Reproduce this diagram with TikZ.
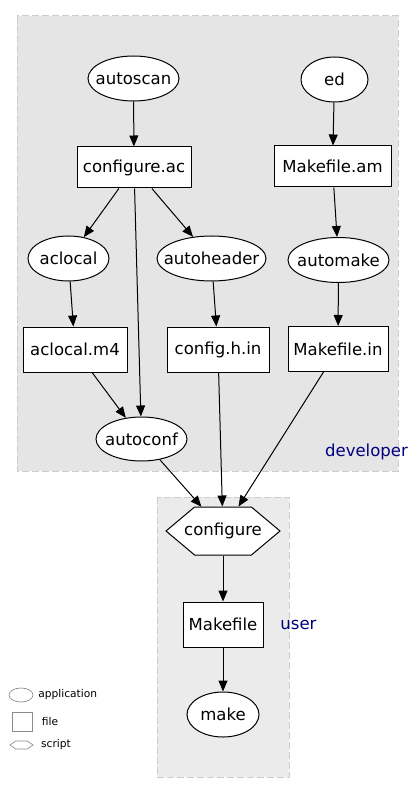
\documentclass[tikz,border=0pt]{standalone}
\usepackage{fontspec}
\setmainfont{DejaVu Sans}
\usepackage{xcolor}
\usepackage{tikz}
\usetikzlibrary{arrows.meta,shapes.geometric,shapes.symbols}
\definecolor{navy}{HTML}{000080}
\definecolor{devgray}{HTML}{E5E5E5}
\definecolor{usergray}{HTML}{EBEBEB}

\begin{document}
\begin{tikzpicture}[x=0.75pt, y=-0.75pt,
  tight/.style={inner sep=0pt, execute at begin node={\hbox to 0pt\bgroup\hss}, execute at end node={\hss\egroup}},
  app/.style={tight, ellipse, draw, fill=white, line width=0.75pt, minimum height=33.75pt, font=\fontsize{12.4}{14}\selectfont},
  filebox/.style={tight, rectangle, draw, fill=white, line width=0.75pt, minimum height=33.75pt, font=\fontsize{12.4}{14}\selectfont},
  scriptbox/.style={tight, signal, signal to=east and west, signal pointer angle=80, draw, fill=white, line width=0.75pt, minimum height=36pt, font=\fontsize{12.4}{14}\selectfont},
  arrow/.style={-{Triangle[length=8.25pt, width=6.75pt]}, line width=0.75pt},
  cluster/.style={draw=black!20, dash pattern=on 5.25pt off 2.25pt, line width=0.75pt},
  clusterlabel/.style={text=navy, inner sep=0pt, font=\fontsize{12.4}{14}\selectfont},
  legshape/.style={draw=black!45, line width=0.5pt, fill=white, inner sep=0pt},
  legtext/.style={inner sep=0pt, font=\fontsize{8}{9}\selectfont}
]
\path[use as bounding box, fill=white] (0,0) rectangle (415,805);

% clusters
\draw[cluster, fill=devgray] (17,16) rectangle (398,471);
\draw[cluster, fill=usergray] (157,497) rectangle (289,777);
\node[clusterlabel] (devlabel) at (366.5,452) {developer};
\node[clusterlabel] (userlabel) at (298.5,625) {user};

% developer side
\node[app, minimum width=68.25pt] (autoscan) at (133.5,78.5) {autoscan};
\node[app, minimum width=50.25pt] (ed) at (334.5,79.5) {ed};
\node[filebox, minimum width=85.5pt, minimum height=30.75pt] (confac) at (134,167.5) {configure.ac};
\node[filebox, minimum width=87.75pt, minimum height=30.75pt] (mkam) at (332.5,166.5) {Makefile.am};
\node[app, minimum width=60.75pt] (aclocal) at (68.5,258.5) {aclocal};
\node[app, minimum width=81.75pt] (autoheader) at (211.5,258.5) {autoheader};
\node[app, minimum width=75.75pt] (automake) at (338.5,260) {automake};
\node[filebox, minimum width=78pt] (aclocalm) at (75,349.5) {aclocal.m4};
\node[filebox, minimum width=76.5pt] (confhin) at (218,349.5) {config.h.in};
\node[filebox, minimum width=75pt] (mkin) at (338,349) {Makefile.in};
\node[app, minimum width=68.25pt, minimum height=33pt] (autoconf) at (141.5,439) {autoconf};

% user side
\node[scriptbox, minimum width=85.5pt] (configure) at (223,531) {configure};
\node[filebox, minimum width=60pt] (makefile) at (223,624.5) {Makefile};
\node[app, minimum width=54pt] (make) at (223,714.5) {make};

\draw[arrow] (autoscan) -- (confac);
\draw[arrow] (ed) -- (mkam);
\draw[arrow] (confac) -- (aclocal);
\draw[arrow] (confac) -- (autoheader);
\draw[arrow] (confac) -- (autoconf);
\draw[arrow] (mkam) -- (automake);
\draw[arrow] (aclocal) -- (aclocalm);
\draw[arrow] (autoheader) -- (confhin);
\draw[arrow] (automake) -- (mkin);
\draw[arrow] (aclocalm) -- (autoconf);
\draw[arrow] (autoconf) -- (configure);
\draw[arrow] (confhin) -- (configure);
\draw[arrow] (mkin) -- (configure);
\draw[arrow] (configure) -- (makefile);
\draw[arrow] (makefile) -- (make);

% legend
\node[legshape, ellipse, minimum width=18pt, minimum height=10.5pt] (legapp) at (21,695) {};
\node[legtext, anchor=west] (legapptxt) at (38,695) {application};
\node[legshape, minimum width=15pt, minimum height=14.25pt] (legfile) at (22,721.5) {};
\node[legtext] (legfiletxt) at (50,722) {file};
\node[legshape, signal, signal to=east and west, signal pointer angle=70, minimum width=17.25pt, minimum height=6pt] (legscript) at (21.5,745) {};
\node[legtext] (legscripttxt) at (56,745) {script};
\end{tikzpicture}
\end{document}
